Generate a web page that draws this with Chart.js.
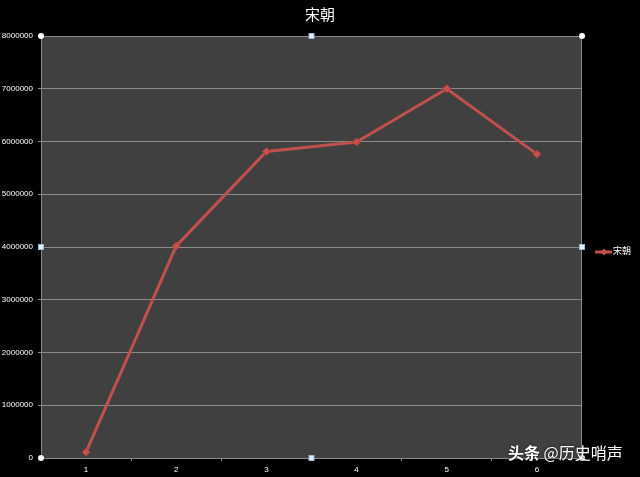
<!DOCTYPE html>
<html>
<head>
<meta charset="utf-8">
<script src="https://cdn.jsdelivr.net/npm/chart.js@4.4.0/dist/chart.umd.min.js"></script>
<style>
html,body{margin:0;padding:0;background:#000;}
#wrap{position:relative;width:640px;height:477px;}
#wm{position:absolute;left:508px;top:441px;font-family:"Noto Sans CJK SC",sans-serif;font-size:16px;line-height:22px;color:#fff;white-space:nowrap;text-shadow:0 0 2px #000;}
#wm b{font-weight:bold;}
</style>
</head>
<body>
<div id="wrap"><canvas id="c" width="640" height="477"></canvas><div id="wm"><b>头条</b> @历史哨声</div></div>
<script>
const title = "宋朝";
const categories = ["1","2","3","4","5","6"];
const seriesName = "宋朝";
const values = [110000, 4020000, 5810000, 5990000, 7000000, 5760000];
const yTicks = [0,1000000,2000000,3000000,4000000,5000000,6000000,7000000,8000000];

const RED = "#c0504d";
const bgPlugin = {
  id:"bgPlugin",
  beforeDraw(chart){
    const {ctx, chartArea:a} = chart;
    ctx.save();
    ctx.fillStyle="#000";
    ctx.fillRect(0,0,chart.width,chart.height);
    ctx.fillStyle="#404040";
    ctx.fillRect(a.left,a.top,a.right-a.left,a.bottom-a.top);
    ctx.restore();
  },
  afterDraw(chart){
    const {ctx, chartArea:a} = chart;
    ctx.save();
    ctx.strokeStyle="#8a8a8a";
    ctx.lineWidth=1;
    ctx.strokeRect(a.left+0.5,a.top+0.5,a.right-a.left-1,a.bottom-a.top);
    const mx=(a.left+a.right)/2, my=(a.top+a.bottom)/2;
    const circles=[[a.left,a.top],[a.right,a.top],[a.left,a.bottom],[a.right,a.bottom]];
    const squares=[[mx,a.top],[mx,a.bottom],[a.left,my],[a.right,my]];
    ctx.fillStyle="#fff";
    ctx.strokeStyle="#9fb8d0";
    circles.forEach(([x,y])=>{ctx.beginPath();ctx.arc(x,y,3,0,Math.PI*2);ctx.fill();});
    squares.forEach(([x,y])=>{ctx.fillStyle="#dfefff";ctx.fillRect(x-2.5,y-2.5,5,5);ctx.strokeRect(x-2.5,y-2.5,5,5);});
    const ly = my+5, lx=595;
    ctx.strokeStyle=RED; ctx.lineWidth=3;
    ctx.beginPath(); ctx.moveTo(lx,ly); ctx.lineTo(lx+17,ly); ctx.stroke();
    ctx.fillStyle=RED;
    ctx.beginPath(); ctx.moveTo(lx+9,ly-3.5); ctx.lineTo(lx+12.5,ly); ctx.lineTo(lx+9,ly+3.5); ctx.lineTo(lx+5.5,ly); ctx.closePath(); ctx.fill();
    ctx.fillStyle="#fff";
    ctx.font='9px "Noto Sans CJK SC"';
    ctx.textBaseline="middle";
    ctx.fillText(seriesName,lx+18,ly-1);
    ctx.restore();
  }
};

new Chart(document.getElementById("c"),{
  type:"line",
  data:{labels:categories,datasets:[{
    label:seriesName,data:values,borderColor:RED,borderWidth:3,
    pointStyle:"rectRot",pointRadius:4,pointBackgroundColor:"#c9504c",pointBorderColor:"#a8403d",pointBorderWidth:1,
    tension:0
  }]},
  options:{
    responsive:false,animation:false,
    layout:{padding:0},
    plugins:{
      legend:{display:false},
      tooltip:{enabled:false},
      title:{display:true,text:title,color:"#fff",font:{family:"Noto Sans CJK SC",size:15,weight:"normal"},padding:{top:5,bottom:13}}
    },
    scales:{
      x:{
        offset:true,
        grid:{display:true,offset:true,drawOnChartArea:false,color:"#8a8a8a",tickLength:3},
        border:{display:true,color:"#8a8a8a"},
        ticks:{color:"#fff",font:{family:"Liberation Sans",size:8},padding:4},
        afterFit(s){s.height=19;}
      },
      y:{
        min:0,max:8000000,
        afterBuildTicks(s){s.ticks=yTicks.map(v=>({value:v}));},
        grid:{color:"#8a8a8a",tickLength:3},
        border:{display:true,color:"#8a8a8a"},
        ticks:{color:"#fff",font:{family:"Liberation Sans",size:8},padding:5,callback:v=>String(v)},
        afterFit(s){s.width=41;}
      },
      yR:{
        position:"right",min:0,max:1,
        grid:{display:false},border:{display:false},ticks:{display:false},
        afterFit(s){s.width=58;}
      }
    }
  },
  plugins:[bgPlugin]
});
</script>
</body>
</html>
